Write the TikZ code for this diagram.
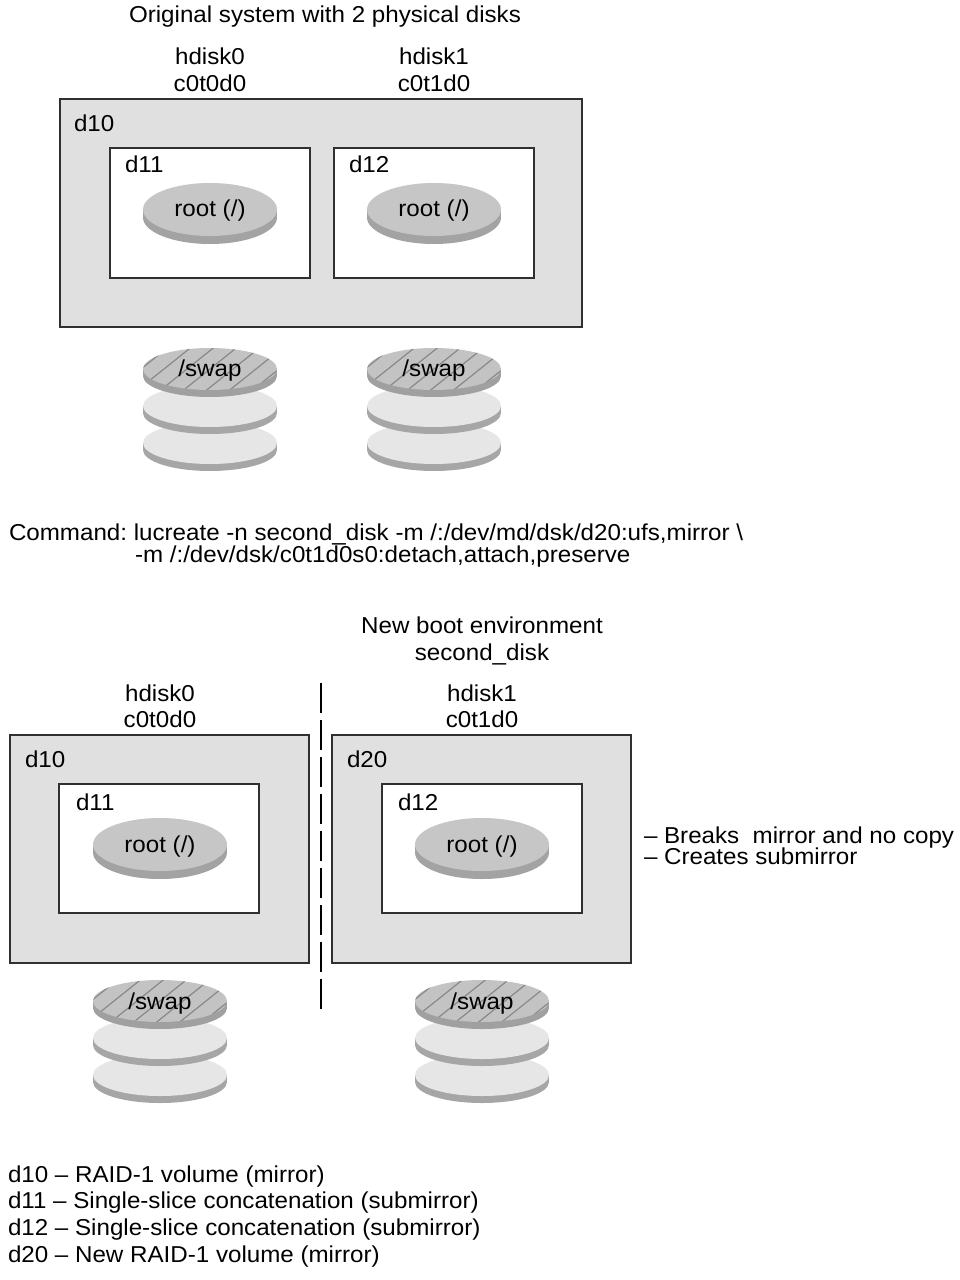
\documentclass[tikz,border=0pt]{standalone}
\usepackage{fontspec}
\setmainfont{Liberation Sans}[FakeStretch=1.05]
\definecolor{boxgray}{HTML}{E0E0E0}
\definecolor{edgegray}{HTML}{303030}
\definecolor{rootface}{HTML}{C6C6C6}
\definecolor{rootside}{HTML}{A3A3A3}
\definecolor{swapface}{HTML}{C3C3C3}
\definecolor{swapside}{HTML}{A0A0A0}
\definecolor{hatchgray}{HTML}{8A8A8A}
\definecolor{lightface}{HTML}{E6E6E6}
\definecolor{lightside}{HTML}{A6A6A6}
% disc: cx, cy, rx, ry, thickness, face colour, side colour
\newcommand\mydisc[7]{%
  \fill[#7] (#1-#3,#2) rectangle (#1+#3,#2+#5);
  \fill[#7] (#1,#2+#5) ellipse [x radius=#3, y radius=#4];
  \fill[#6] (#1,#2) ellipse [x radius=#3, y radius=#4];
}
\newcommand\myswapstack[2]{%
  \mydisc{#1}{#2+74}{67}{21}{7}{lightface}{lightside}
  \mydisc{#1}{#2+37}{67}{21}{7}{lightface}{lightside}
  \mydisc{#1}{#2}{67}{21}{7}{swapface}{swapside}
  \begin{scope}
    \clip (#1,#2) ellipse [x radius=67, y radius=21];
    \foreach \k in {-6,...,6}
      \draw[hatch] (#1+23*\k-40,#2+32) -- (#1+23*\k+40,#2-32);
  \end{scope}
}
\begin{document}
\frenchspacing
\begin{tikzpicture}[x=0.5bp,y=-0.5bp,
  txt/.style={inner sep=0pt, outer sep=0pt, font=\fontsize{11.5bp}{14bp}\selectfont, text=black},
  outerbox/.style={fill=boxgray, draw=edgegray, line width=0.7bp},
  innerbox/.style={fill=white, draw=edgegray, line width=0.7bp},
  hatch/.style={draw=hatchgray, line width=0.6bp},
  sepline/.style={draw=black, line width=0.6bp, dash pattern=on 15bp off 3.5bp}]
\fill[white] (0,0) rectangle (959,1280);
\useasboundingbox (0,0) rectangle (959,1280);

% ---------- original system ----------
\node[txt, anchor=base] (title) at (325,23) {Original system with 2 physical disks};
\node[txt, anchor=base] (hdA0) at (210,65) {hdisk0};
\node[txt, anchor=base] (ctA0) at (210,92) {c0t0d0};
\node[txt, anchor=base] (hdA1) at (434,65) {hdisk1};
\node[txt, anchor=base] (ctA1) at (434,92) {c0t1d0};

\draw[outerbox] (60,99) rectangle (582,327);
\node[txt, anchor=base west] (dTenA) at (74,132) {d10};
\draw[innerbox] (110,148) rectangle (310,278);
\node[txt, anchor=base west] (dElevenA) at (125,173) {d11};
\draw[innerbox] (334,148) rectangle (534,278);
\node[txt, anchor=base west] (dTwelveA) at (349,173) {d12};

\mydisc{210}{209.5}{67}{26.5}{8}{rootface}{rootside}
\node[txt, anchor=base] (rootA0) at (210,217) {root (/)};
\mydisc{434}{209.5}{67}{26.5}{8}{rootface}{rootside}
\node[txt, anchor=base] (rootA1) at (434,217) {root (/)};

\myswapstack{210}{369}
\node[txt, anchor=base] (swapA0) at (210,377) {/swap};
\myswapstack{434}{369}
\node[txt, anchor=base] (swapA1) at (434,377) {/swap};

% ---------- command ----------
\node[txt, anchor=base west] (cmdOne) at (9,540) {Command: lucreate -n second\_disk -m /:/dev/md/dsk/d20:ufs,mirror \textbackslash};
\node[txt, anchor=base west] (cmdTwo) at (135,562) {-m /:/dev/dsk/c0t1d0s0:detach,attach,preserve};

% ---------- new boot environment ----------
\node[txt, anchor=base] (nbe) at (482,633) {New boot environment};
\node[txt, anchor=base] (nbeName) at (482,660) {second\_disk};
\node[txt, anchor=base] (hdB0) at (160,701) {hdisk0};
\node[txt, anchor=base] (ctB0) at (160,727) {c0t0d0};
\node[txt, anchor=base] (hdB1) at (482,701) {hdisk1};
\node[txt, anchor=base] (ctB1) at (482,727) {c0t1d0};

\coordinate (sepTop) at (321,683);
\coordinate (sepBot) at (321,1013);
\draw[sepline] (sepTop) -- (sepBot);

\draw[outerbox] (10,735) rectangle (309,963);
\node[txt, anchor=base west] (dTenB) at (25,767) {d10};
\draw[innerbox] (59,784) rectangle (259,913);
\node[txt, anchor=base west] (dElevenB) at (76,810) {d11};
\mydisc{160}{844.5}{67}{26.5}{8}{rootface}{rootside}
\node[txt, anchor=base] (rootB0) at (160,852) {root (/)};

\draw[outerbox] (332,735) rectangle (631,963);
\node[txt, anchor=base west] (dTwentyB) at (347,767) {d20};
\draw[innerbox] (382,784) rectangle (582,913);
\node[txt, anchor=base west] (dTwelveB) at (398,810) {d12};
\mydisc{482}{844.5}{67}{26.5}{8}{rootface}{rootside}
\node[txt, anchor=base] (rootB1) at (482,852) {root (/)};

\node[txt, anchor=base west] (noteOne) at (644,843) {– Breaks\ \ mirror and no copy};
\node[txt, anchor=base west] (noteTwo) at (644,864) {– Creates submirror};

\myswapstack{160}{1001}
\node[txt, anchor=base] (swapB0) at (160,1009) {/swap};
\myswapstack{482}{1001}
\node[txt, anchor=base] (swapB1) at (482,1009) {/swap};

% ---------- legend ----------
\node[txt, anchor=base west] (legA) at (8,1182) {d10 – RAID-1 volume (mirror)};
\node[txt, anchor=base west] (legB) at (8,1208.5) {d11 – Single-slice concatenation (submirror)};
\node[txt, anchor=base west] (legC) at (8,1235) {d12 – Single-slice concatenation (submirror)};
\node[txt, anchor=base west] (legD) at (8,1262) {d20 – New RAID-1 volume (mirror)};
\end{tikzpicture}
\end{document}
